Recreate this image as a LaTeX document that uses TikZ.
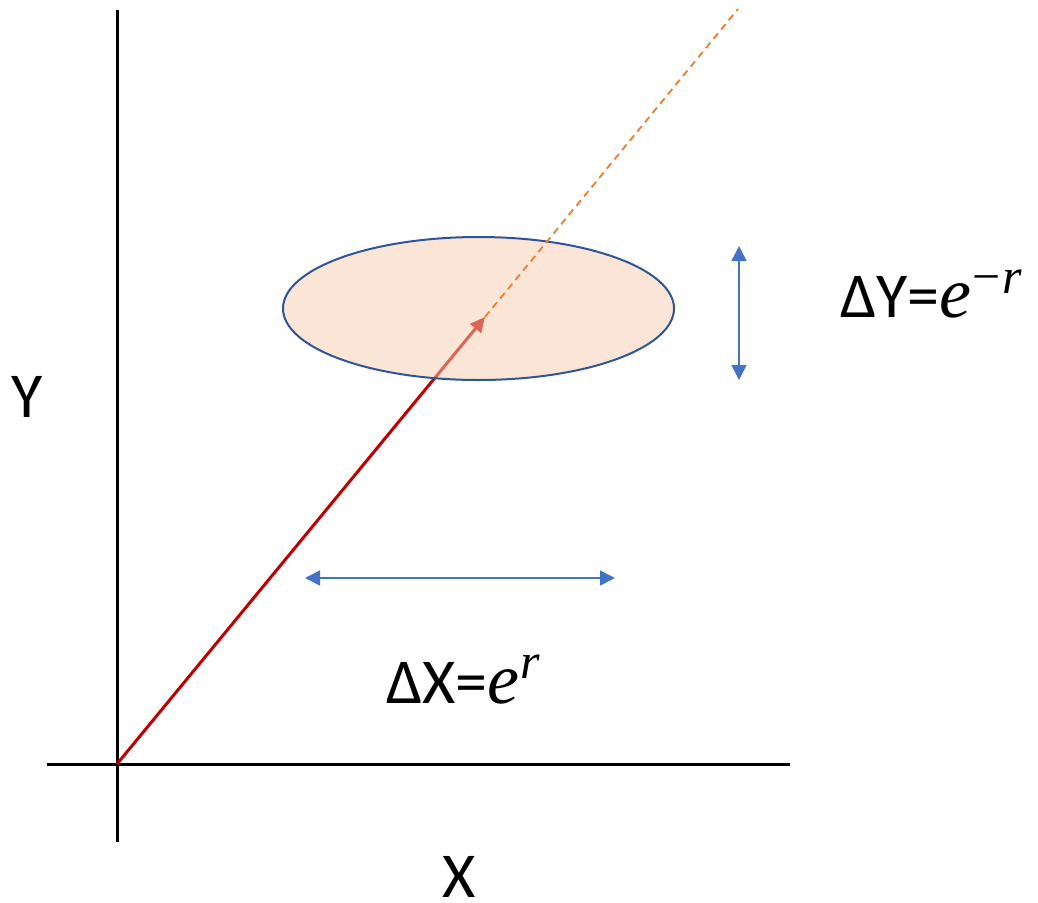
\documentclass[tikz,border=0pt]{standalone}
\usepackage{fontspec}
\setmainfont{Carlito}
\newfontfamily\mathserif{Liberation Serif}
\usetikzlibrary{arrows.meta,shapes.geometric}
\definecolor{axisblack}{HTML}{000000}
\definecolor{vecred}{HTML}{C00000}
\definecolor{dashorange}{HTML}{ED7D31}
\definecolor{ellfill}{HTML}{F8CBAD}
\definecolor{elledge}{HTML}{2F5597}
\definecolor{dimblue}{HTML}{4472C4}
\newcommand{\ebase}{{\mathserif\itshape\fontsize{72}{80}\selectfont e}}
\newcommand{\eexp}[2]{\raisebox{#1}{\mathserif\fontsize{50}{56}\selectfont #2}}
\tikzset{
  axisline/.style={line width=3pt, draw=axisblack},
  vecline/.style={line width=3pt, draw=vecred, -{Triangle[length=15pt,width=14pt]}},
  dashline/.style={line width=1.8pt, draw=dashorange, dash pattern=on 7pt off 5pt},
  blob/.style={ellipse, draw=elledge, line width=2pt, fill=ellfill, fill opacity=0.5, draw opacity=1, minimum width=391pt, minimum height=143pt, inner sep=0pt},
  dimarrow/.style={line width=1.5pt, draw=dimblue, {Triangle[length=15pt,width=15pt]}-{Triangle[length=15pt,width=15pt]}},
  lbl/.style={font=\fontsize{64}{70}\selectfont, inner sep=0pt, anchor=base west}
}
\begin{document}
\begin{tikzpicture}[x=1pt,y=-1pt]
\useasboundingbox (0,0) rectangle (1038,902);
% axes
\coordinate (O) at (117,764);
\coordinate (ytop) at (117,10);
\coordinate (ybot) at (117,842);
\coordinate (xleft) at (47,764);
\coordinate (xright) at (790,764);
\draw[axisline] (ybot) -- (ytop);
\draw[axisline] (xleft) -- (xright);
% vector
\coordinate (tip) at (485,317);
\coordinate (far) at (738,9);
\draw[vecline] (O) -- (tip);
% ellipse
\node[blob] (ell) at (478.5,308.5) {};
% dashed continuation
\draw[dashline] (tip) -- (far);
% dimension arrows
\coordinate (vtop) at (739,246);
\coordinate (vbot) at (739,380);
\draw[dimarrow] (vtop) -- (vbot);
\coordinate (hleft) at (305,578);
\coordinate (hright) at (615,578);
\draw[dimarrow] (hleft) -- (hright);
% labels
\node[lbl] (dy) at (840,317) {ΔY=\ebase\kern1pt\eexp{24pt}{−\kern2pt\itshape r}};
\node[lbl] (dx) at (386,703) {ΔX=\ebase\kern1pt\eexp{25pt}{\itshape r}};
\node[lbl] (ylab) at (11,417) {Y};
\node[lbl] (xlab) at (442,897) {X};
\end{tikzpicture}
\end{document}
